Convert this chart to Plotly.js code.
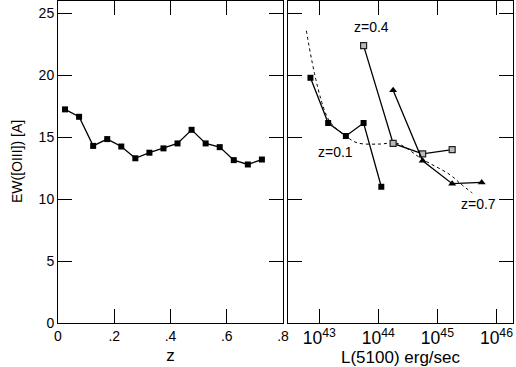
<!DOCTYPE html>
<html>
<head>
<meta charset="utf-8">
<script src="https://cdn.plot.ly/plotly-3.0.1.min.js"></script>
</head>
<body style="margin:0">
<div id="ewPlot" style="width:516px;height:367px"></div>
<script>
// left panel: EW vs redshift bins
var zBins = [0.025, 0.075, 0.125, 0.175, 0.225, 0.275, 0.325, 0.375, 0.425, 0.475, 0.525, 0.575, 0.625, 0.675, 0.725];
var ewByZ = [17.25, 16.65, 14.3, 14.85, 14.25, 13.3, 13.75, 14.1, 14.5, 15.6, 14.5, 14.2, 13.15, 12.8, 13.2];

// right panel: log L(5100) and EW per redshift slice
var logL01 = [42.85, 43.15, 43.45, 43.75, 44.05];
var ew01 = [19.8, 16.15, 15.1, 16.15, 11.0];
var logL04 = [43.75, 44.25, 44.75, 45.25];
var ew04 = [22.4, 14.5, 13.65, 14.0];
var logL07 = [44.25, 44.75, 45.25, 45.75];
var ew07 = [18.8, 13.1, 11.25, 11.35];
// dotted curve
var logLFit = [42.78, 43.16, 43.45, 43.64, 44.03, 44.29, 44.45, 44.72, 45.22, 45.39, 45.59];
var ewFit = [23.6, 16.4, 15.1, 14.55, 14.45, 14.55, 14.2, 13.3, 11.95, 11.25, 10.5];

// tick labels without the leading zero
var zTickAlias = {'0.2': '.2', '0.4': '.4', '0.6': '.6', '0.8': '.8'};

function toLin(arr) { return arr.map(function (v) { return Math.pow(10, v); }); }

var font = {family: 'Liberation Sans, Arial, sans-serif', size: 14, color: '#000'};

var data = [
  {x: zBins, y: ewByZ, mode: 'lines+markers',
   line: {color: '#000', width: 1.3}, marker: {symbol: 'square', size: 6, color: '#000'}},
  {x: toLin(logLFit), y: ewFit, xaxis: 'x2', yaxis: 'y2', mode: 'lines',
   line: {color: '#000', width: 1, dash: 'dot', shape: 'spline'}},
  {x: toLin(logL01), y: ew01, xaxis: 'x2', yaxis: 'y2', mode: 'lines+markers',
   line: {color: '#000', width: 1.3}, marker: {symbol: 'square', size: 6, color: '#000'}},
  {x: toLin(logL04), y: ew04, xaxis: 'x2', yaxis: 'y2', mode: 'lines+markers',
   line: {color: '#000', width: 1.3}, marker: {symbol: 'square', size: 6, color: '#bbb', line: {color: '#222', width: 1.2}}},
  {x: toLin(logL07), y: ew07, xaxis: 'x2', yaxis: 'y2', mode: 'lines+markers',
   line: {color: '#000', width: 1.3}, marker: {symbol: 'triangle-up', size: 7, color: '#000'}}
];

// plain tick-only axis used for the short (minor) ticks
function tickAxis(extra) {
  return Object.assign({
    showline: false, showgrid: false, zeroline: false, showticklabels: false,
    ticks: 'inside', ticklen: 7, tickcolor: '#000', mirror: 'allticks'
  }, extra);
}

var layout = {
  width: 516, height: 367, margin: {l: 58, r: 3, t: 1, b: 44}, showlegend: false,
  paper_bgcolor: '#fff', plot_bgcolor: '#fff', font: font,
  xaxis: {domain: [0, 0.4945], range: [0, 0.8],
    showline: true, linecolor: '#000', mirror: 'allticks', showgrid: false, zeroline: false,
    ticks: 'inside', ticklen: 14, tickcolor: '#000', tickmode: 'linear', tick0: 0, dtick: 0.2,
    labelalias: zTickAlias,
    title: {text: 'z', standoff: 6}},
  yaxis: {range: [0, 26],
    showline: true, linecolor: '#000', mirror: 'allticks', showgrid: false, zeroline: false,
    ticks: 'inside', ticklen: 14, tickcolor: '#000', tickmode: 'linear', tick0: 0, dtick: 5},
  xaxis2: {domain: [0.5055, 1], anchor: 'y2', type: 'log', range: [42.47, 46.28],
    showline: true, linecolor: '#000', mirror: 'allticks', showgrid: false, zeroline: false,
    ticks: 'inside', ticklen: 14, tickcolor: '#000', dtick: 1, exponentformat: 'power', showexponent: 'all',
    title: {text: 'L(5100) erg/sec', standoff: 6}},
  yaxis2: {anchor: 'x2', range: [0, 26],
    showline: true, linecolor: '#000', mirror: 'allticks', showgrid: false, zeroline: false,
    ticks: 'inside', ticklen: 14, tickcolor: '#000', tickmode: 'linear', tick0: 0, dtick: 5, showticklabels: false},
  xaxis3: tickAxis({overlaying: 'x', anchor: 'y', range: [0, 0.8], tickmode: 'linear', tick0: 0, dtick: 0.05}),
  yaxis3: tickAxis({overlaying: 'y', anchor: 'x', range: [0, 26], tickmode: 'linear', tick0: 0, dtick: 1}),
  xaxis4: tickAxis({overlaying: 'x2', anchor: 'y2', type: 'log', range: [42.47, 46.28], dtick: 'D1'}),
  yaxis4: tickAxis({overlaying: 'y2', anchor: 'x2', range: [0, 26], tickmode: 'linear', tick0: 0, dtick: 1}),
  annotations: [
    {xref: 'paper', yref: 'paper', x: -0.112, y: 0.5, text: 'EW([OIII]) [A]', textangle: -90, showarrow: false},
    {xref: 'x2', yref: 'y2', x: 43.89, y: 23.9, text: 'z=0.4', showarrow: false},
    {xref: 'x2', yref: 'y2', x: 43.28, y: 13.8, text: 'z=0.1', showarrow: false},
    {xref: 'x2', yref: 'y2', x: 45.69, y: 9.6, text: 'z=0.7', showarrow: false}
  ]
};

Plotly.newPlot('ewPlot', data, layout, {displayModeBar: false});
</script>
</body>
</html>
